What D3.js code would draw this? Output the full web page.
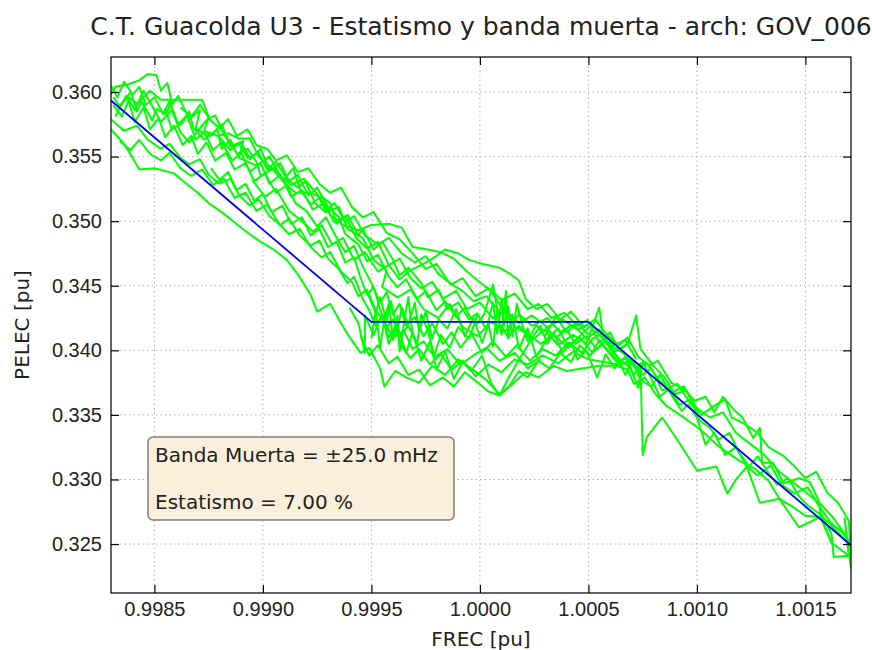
<!DOCTYPE html>
<html>
<head>
<meta charset="utf-8">
<script src="https://cdn.jsdelivr.net/npm/d3@7"></script>
<style>
  body { margin: 0; background: #fff; }
  svg { font-family: "DejaVu Sans", sans-serif; }
  .axis path { display: none; }
  .axis line { stroke: #000; stroke-width: 1.2; }
  .axis text { font-size: 20px; fill: #222; }
  .grid line { stroke: #b0b0b0; stroke-width: 1; stroke-dasharray: 1.5,3; }
</style>
</head>
<body>
<div id="chart"></div>
<script>
// titles and labels
const chartTitle = 'C.T. Guacolda U3 - Estatismo y banda muerta - arch: GOV_006';
const xLabel = 'FREC [pu]';
const yLabel = 'PELEC [pu]';
const boxLines = ['Banda Muerta = \u00b125.0 mHz', 'Estatismo = 7.00 %'];

const xTicks = [0.9985, 0.9990, 0.9995, 1.0000, 1.0005, 1.0010, 1.0015];
const yTicks = [0.325, 0.330, 0.335, 0.340, 0.345, 0.350, 0.355, 0.360];

// droop characteristic (blue line): frequency breakpoints and power
const refFrec = [0.99830, 0.99950, 1.00050, 1.00171];
const refPelec = [0.35934, 0.3422, 0.3422, 0.32491];

// measured traces [frec, pelec]
const trace1 = [[0.99830,0.3598],[0.99832,0.3604],[0.99838,0.3606],[0.99843,0.3609],[0.99847,0.3614],[0.99851,0.3613],[0.99853,0.3601],[0.99856,0.3607],[0.99858,0.3592],[0.99855,0.3583],[0.99861,0.3597],[0.99866,0.3579],[0.99871,0.3586],[0.99869,0.3571],[0.99876,0.3566],[0.99881,0.3575],[0.99885,0.3558],[0.99891,0.3562],[0.99889,0.3549],[0.99897,0.3543],[0.99903,0.3550],[0.99908,0.3535],[0.99913,0.3528],[0.99919,0.3533],[0.99924,0.3514],[0.99929,0.3507],[0.99935,0.3511],[0.99939,0.3494],[0.99946,0.3487],[0.99951,0.3470],[0.99957,0.3462],[0.99955,0.3449],[0.99962,0.3441],[0.99968,0.3447],[0.99974,0.3432],[0.99981,0.3425],[0.99986,0.3436],[0.99992,0.3418],[0.99999,0.3411],[1.00005,0.3422],[1.00012,0.3415],[1.00018,0.3428],[1.00024,0.3419],[1.00031,0.3425],[1.00037,0.3414],[1.00043,0.3420],[1.00049,0.3409],[1.00055,0.3416],[1.00060,0.3404],[1.00066,0.3398],[1.00072,0.3386],[1.00077,0.3390],[1.00083,0.3376],[1.00089,0.3368],[1.00094,0.3372],[1.00100,0.3355],[1.00106,0.3348],[1.00112,0.3352],[1.00118,0.3336],[1.00125,0.3327],[1.00131,0.3319],[1.00138,0.3306],[1.00144,0.3298],[1.00151,0.3289],[1.00157,0.3281],[1.00163,0.3270],[1.00168,0.3258],[1.00171,0.3249]];
const trace2 = [[0.99833,0.3588],[0.99838,0.3596],[0.99842,0.3591],[0.99848,0.3601],[0.99853,0.3594],[0.99860,0.3594],[0.99868,0.3594],[0.99872,0.3594],[0.99875,0.3581],[0.99873,0.3570],[0.99879,0.3566],[0.99884,0.3568],[0.99889,0.3564],[0.99894,0.3564],[0.99898,0.3550],[0.99904,0.3541],[0.99910,0.3530],[0.99915,0.3522],[0.99922,0.3522],[0.99926,0.3519],[0.99931,0.3505],[0.99937,0.3497],[0.99944,0.3493],[0.99950,0.3497],[0.99958,0.3498],[0.99964,0.3495],[0.99969,0.3480],[0.99976,0.3478],[0.99982,0.3476],[0.99988,0.3471],[0.99994,0.3461],[0.99999,0.3454],[1.00005,0.3446],[1.00011,0.3431],[1.00016,0.3418],[1.00022,0.3413],[1.00028,0.3405],[1.00034,0.3412],[1.00040,0.3403],[1.00046,0.3410],[1.00052,0.3398],[1.00056,0.3405],[1.00063,0.3391],[1.00069,0.3395],[1.00075,0.3381],[1.00079,0.3386],[1.00084,0.3369],[1.00091,0.3374],[1.00097,0.3359],[1.00102,0.3350],[1.00108,0.3357],[1.00113,0.3362],[1.00116,0.3348],[1.00122,0.3343],[1.00128,0.3336],[1.00133,0.3325],[1.00140,0.3318],[1.00145,0.3310],[1.00150,0.3301],[1.00155,0.3306],[1.00160,0.3290],[1.00165,0.3282],[1.00170,0.3268],[1.00171,0.3241]];
const trace3 = [[0.99830,0.3571],[0.99836,0.3560],[0.99840,0.3549],[0.99843,0.3540],[0.99850,0.3541],[0.99859,0.3537],[0.99864,0.3530],[0.99870,0.3522],[0.99875,0.3514],[0.99881,0.3507],[0.99887,0.3499],[0.99893,0.3491],[0.99899,0.3484],[0.99905,0.3478],[0.99911,0.3470],[0.99916,0.3459],[0.99922,0.3443],[0.99925,0.3430],[0.99931,0.3436],[0.99936,0.3421],[0.99940,0.3410],[0.99945,0.3398],[0.99949,0.3402],[0.99954,0.3386],[0.99956,0.3372],[0.99961,0.3384],[0.99966,0.3379],[0.99972,0.3375],[0.99978,0.3388],[0.99984,0.3381],[0.99990,0.3393],[0.99996,0.3386],[1.00003,0.3377],[1.00009,0.3366],[1.00015,0.3374],[1.00021,0.3383],[1.00027,0.3379],[1.00034,0.3388],[1.00040,0.3384],[1.00047,0.3386],[1.00055,0.3388],[1.00063,0.3388],[1.00068,0.3385],[1.00071,0.3374],[1.00076,0.3379],[1.00081,0.3366],[1.00086,0.3357],[1.00093,0.3349],[1.00099,0.3342],[1.00104,0.3335],[1.00109,0.3327],[1.00114,0.3321],[1.00120,0.3314],[1.00127,0.3308],[1.00133,0.3299],[1.00138,0.3285],[1.00144,0.3279],[1.00150,0.3272],[1.00157,0.3271],[1.00162,0.3251],[1.00166,0.3246],[1.00170,0.3241]];
const trace4 = [[0.99831,0.3590],[0.99835,0.3581],[0.99838,0.3593],[0.99841,0.3577],[0.99845,0.3588],[0.99848,0.3571],[0.99852,0.3580],[0.99855,0.3565],[0.99859,0.3574],[0.99863,0.3559],[0.99867,0.3566],[0.99870,0.3552],[0.99874,0.3561],[0.99878,0.3547],[0.99883,0.3553],[0.99887,0.3540],[0.99892,0.3545],[0.99896,0.3531],[0.99901,0.3537],[0.99906,0.3522],[0.99911,0.3528],[0.99915,0.3514],[0.99920,0.3508],[0.99925,0.3496],[0.99929,0.3503],[0.99934,0.3487],[0.99938,0.3476],[0.99942,0.3481],[0.99946,0.3465],[0.99950,0.3452],[0.99954,0.3437],[0.99957,0.3445],[0.99960,0.3428],[0.99963,0.3436],[0.99966,0.3419],[0.99970,0.3426],[0.99974,0.3411],[0.99978,0.3421],[0.99983,0.3405],[0.99987,0.3414],[0.99991,0.3402],[0.99996,0.3413],[1.00001,0.3398],[1.00006,0.3407],[1.00012,0.3395],[1.00017,0.3404],[1.00023,0.3392],[1.00029,0.3401],[1.00035,0.3396],[1.00041,0.3406],[1.00047,0.3398],[1.00052,0.3409],[1.00056,0.3413],[1.00060,0.3401],[1.00065,0.3392],[1.00069,0.3387],[1.00073,0.3371],[1.00075,0.3391],[1.00079,0.3378],[1.00083,0.3364],[1.00087,0.3370],[1.00092,0.3358],[1.00097,0.3362],[1.00101,0.3346],[1.00106,0.3340],[1.00110,0.3331],[1.00115,0.3336],[1.00119,0.3322],[1.00124,0.3310],[1.00128,0.3318],[1.00133,0.3305],[1.00137,0.3296],[1.00142,0.3301],[1.00147,0.3287],[1.00151,0.3280],[1.00156,0.3274],[1.00161,0.3266],[1.00166,0.3257],[1.00171,0.3248]];
const trace5 = [[0.99832,0.3581],[0.99837,0.3597],[0.99841,0.3586],[0.99845,0.3601],[0.99849,0.3589],[0.99853,0.3577],[0.99858,0.3586],[0.99862,0.3569],[0.99866,0.3561],[0.99870,0.3570],[0.99874,0.3578],[0.99878,0.3582],[0.99882,0.3567],[0.99886,0.3558],[0.99890,0.3561],[0.99894,0.3548],[0.99899,0.3556],[0.99903,0.3539],[0.99908,0.3545],[0.99912,0.3531],[0.99916,0.3536],[0.99921,0.3520],[0.99925,0.3526],[0.99930,0.3511],[0.99935,0.3503],[0.99938,0.3490],[0.99944,0.3482],[0.99948,0.3469],[0.99953,0.3474],[0.99958,0.3457],[0.99962,0.3449],[0.99966,0.3455],[0.99971,0.3440],[0.99975,0.3446],[0.99980,0.3431],[0.99984,0.3438],[0.99989,0.3426],[0.99993,0.3433],[0.99998,0.3419],[1.00002,0.3428],[1.00006,0.3451],[1.00009,0.3421],[1.00013,0.3410],[1.00018,0.3419],[1.00024,0.3408],[1.00030,0.3416],[1.00036,0.3404],[1.00043,0.3412],[1.00049,0.3405],[1.00055,0.3433],[1.00057,0.3408],[1.00062,0.3399],[1.00068,0.3405],[1.00072,0.3427],[1.00074,0.3401],[1.00080,0.3388],[1.00085,0.3379],[1.00090,0.3366],[1.00095,0.3369],[1.00100,0.3353]];
const trace6 = [[0.99830,0.3579],[0.99836,0.3570],[0.99842,0.3574],[0.99847,0.3563],[0.99853,0.3556],[0.99857,0.3560],[0.99862,0.3549],[0.99866,0.3544],[0.99871,0.3548],[0.99875,0.3536],[0.99880,0.3529],[0.99885,0.3533],[0.99889,0.3520],[0.99894,0.3512],[0.99898,0.3517],[0.99903,0.3504],[0.99908,0.3497],[0.99912,0.3502],[0.99917,0.3489],[0.99922,0.3481],[0.99926,0.3485],[0.99930,0.3471],[0.99935,0.3463],[0.99939,0.3452],[0.99942,0.3457],[0.99946,0.3440],[0.99949,0.3431],[0.99952,0.3419],[0.99955,0.3427],[0.99958,0.3410],[0.99961,0.3418],[0.99964,0.3403],[0.99968,0.3394],[0.99972,0.3401],[0.99977,0.3389],[0.99982,0.3397],[0.99987,0.3385],[0.99992,0.3392],[0.99998,0.3380],[1.00004,0.3389],[1.00010,0.3383],[1.00016,0.3393],[1.00022,0.3389],[1.00029,0.3396],[1.00036,0.3390],[1.00043,0.3399],[1.00050,0.3393],[1.00057,0.3391],[1.00064,0.3389]];
const trace7 = [[0.99895,0.3532],[0.99901,0.3519],[0.99906,0.3525],[0.99912,0.3508],[0.99918,0.3500],[0.99923,0.3492],[0.99927,0.3497],[0.99932,0.3482],[0.99937,0.3487],[0.99942,0.3470],[0.99947,0.3476],[0.99953,0.3461],[0.99958,0.3466],[0.99963,0.3455],[0.99968,0.3462],[0.99974,0.3467],[0.99980,0.3473],[0.99984,0.3478],[0.99990,0.3475],[0.99995,0.3470],[1.00001,0.3467],[1.00009,0.3464],[1.00014,0.3459],[1.00018,0.3454],[1.00021,0.3440],[1.00026,0.3432],[1.00031,0.3436],[1.00037,0.3424],[1.00042,0.3430],[1.00048,0.3418],[1.00053,0.3424],[1.00059,0.3411],[1.00064,0.3404],[1.00068,0.3410],[1.00073,0.3395],[1.00078,0.3388],[1.00082,0.3392],[1.00088,0.3375],[1.00094,0.3370],[1.00099,0.3361],[1.00104,0.3364],[1.00108,0.3352],[1.00112,0.3364],[1.00117,0.3354],[1.00121,0.3348],[1.00126,0.3332],[1.00129,0.3340],[1.00130,0.3313],[1.00135,0.3313],[1.00140,0.3297],[1.00147,0.3301],[1.00152,0.3298],[1.00156,0.3284],[1.00157,0.3274],[1.00162,0.3258],[1.00163,0.3240],[1.00170,0.3241],[1.00168,0.3270],[1.00171,0.3231]];
const trace8 = [[0.99940,0.3433],[0.99944,0.3421],[0.99947,0.3398],[0.99947,0.3427],[0.99951,0.3412],[0.99955,0.3428],[0.99958,0.3405],[0.99962,0.3419],[0.99966,0.3398],[0.99969,0.3414],[0.99973,0.3392],[0.99977,0.3407],[0.99980,0.3385],[0.99984,0.3399],[0.99988,0.3378],[0.99992,0.3391],[0.99996,0.3384],[1.00001,0.3396],[1.00005,0.3375],[1.00009,0.3365],[1.00013,0.3378],[1.00017,0.3390],[1.00021,0.3401],[1.00025,0.3412],[1.00028,0.3419],[1.00031,0.3405],[1.00034,0.3414],[1.00038,0.3398],[1.00042,0.3406],[1.00045,0.3393],[1.00049,0.3400],[1.00054,0.3379],[1.00058,0.3397],[1.00062,0.3386],[1.00067,0.3395],[1.00071,0.3381],[1.00074,0.3390],[1.00075,0.3319],[1.00077,0.3333],[1.00084,0.3348],[1.00092,0.3328],[1.00100,0.3307],[1.00109,0.3310],[1.00114,0.3289],[1.00118,0.3300],[1.00123,0.3310],[1.00129,0.3282],[1.00138,0.3285],[1.00147,0.3263],[1.00157,0.3271],[1.00162,0.3251]];
const trace9 = [[0.99948,0.3445],[0.99952,0.3429],[0.99954,0.3441],[0.99957,0.3423],[0.99959,0.3438],[0.99962,0.3416],[0.99964,0.3433],[0.99967,0.3420],[0.99970,0.3437],[0.99972,0.3414],[0.99975,0.3430],[0.99978,0.3409],[0.99981,0.3424],[0.99985,0.3417],[0.99989,0.3432],[0.99993,0.3411],[0.99997,0.3425],[1.00001,0.3406],[1.00004,0.3420],[1.00006,0.3403],[1.00008,0.3431],[1.00010,0.3412],[1.00012,0.3446],[1.00013,0.3409],[1.00015,0.3428],[1.00018,0.3401],[1.00022,0.3417],[1.00026,0.3395],[1.00031,0.3409],[1.00036,0.3417],[1.00041,0.3402],[1.00046,0.3411],[1.00051,0.3419],[1.00055,0.3406],[1.00060,0.3414],[1.00064,0.3400],[1.00069,0.3406]];
const trace10 = [[0.99834,0.3562],[0.99839,0.3555],[0.99843,0.3563],[0.99848,0.3552],[0.99853,0.3547],[0.99857,0.3553],[0.99862,0.3541],[0.99867,0.3535],[0.99872,0.3540],[0.99877,0.3528],[0.99882,0.3533],[0.99887,0.3518],[0.99892,0.3522],[0.99897,0.3508],[0.99902,0.3513],[0.99907,0.3499],[0.99912,0.3490],[0.99917,0.3494],[0.99922,0.3480],[0.99927,0.3472],[0.99931,0.3476],[0.99936,0.3461],[0.99941,0.3453],[0.99944,0.3442],[0.99948,0.3447],[0.99952,0.3431],[0.99956,0.3422],[0.99960,0.3410],[0.99965,0.3415],[0.99969,0.3401],[0.99974,0.3407],[0.99979,0.3395],[0.99985,0.3401],[0.99991,0.3389],[0.99997,0.3396],[1.00003,0.3402],[1.00009,0.3392],[1.00016,0.3398],[1.00022,0.3386],[1.00028,0.3393]];
const trace11 = [[0.99830,0.3605],[0.99833,0.3596],[0.99836,0.3608],[0.99840,0.3598],[0.99843,0.3604],[0.99846,0.3590],[0.99850,0.3596],[0.99854,0.3583],[0.99857,0.3593],[0.99861,0.3575],[0.99865,0.3582],[0.99869,0.3563],[0.99873,0.3569],[0.99877,0.3555],[0.99881,0.3561],[0.99886,0.3547],[0.99890,0.3553],[0.99894,0.3538],[0.99899,0.3545],[0.99903,0.3529],[0.99908,0.3536],[0.99913,0.3519],[0.99918,0.3524],[0.99923,0.3509],[0.99928,0.3514],[0.99933,0.3499],[0.99938,0.3504],[0.99943,0.3487],[0.99948,0.3479],[0.99953,0.3484],[0.99958,0.3466],[0.99963,0.3471],[0.99968,0.3456],[0.99973,0.3448],[0.99978,0.3453],[0.99983,0.3440],[0.99989,0.3446],[0.99994,0.3432],[1.00000,0.3437],[1.00006,0.3425],[1.00012,0.3431],[1.00018,0.3421],[1.00024,0.3427],[1.00031,0.3418],[1.00038,0.3424],[1.00045,0.3416],[1.00051,0.3421],[1.00056,0.3410],[1.00062,0.3404],[1.00067,0.3408],[1.00072,0.3393]];
const trace12 = [[0.99831,0.3596],[0.99834,0.3589],[0.99839,0.3600],[0.99842,0.3585],[0.99844,0.3593],[0.99849,0.3578],[0.99851,0.3587],[0.99856,0.3582],[0.99858,0.3571],[0.99863,0.3576],[0.99866,0.3585],[0.99868,0.3572],[0.99873,0.3563],[0.99879,0.3571],[0.99881,0.3556],[0.99885,0.3563],[0.99888,0.3552],[0.99893,0.3556],[0.99897,0.3546],[0.99899,0.3535],[0.99905,0.3541],[0.99909,0.3531],[0.99914,0.3541],[0.99917,0.3525],[0.99922,0.3513],[0.99927,0.3519],[0.99931,0.3514],[0.99934,0.3498],[0.99939,0.3505],[0.99944,0.3489],[0.99946,0.3494],[0.99951,0.3478],[0.99955,0.3484],[0.99960,0.3470],[0.99963,0.3458],[0.99967,0.3464],[0.99973,0.3452],[0.99976,0.3441],[0.99981,0.3447],[0.99985,0.3432],[0.99990,0.3437],[0.99995,0.3424],[0.99999,0.3429]];
const trace13 = [[0.99950,0.3409],[0.99952,0.3431],[0.99954,0.3402],[0.99956,0.3424],[0.99958,0.3436],[0.99960,0.3408],[0.99962,0.3427],[0.99963,0.3399],[0.99965,0.3421],[0.99967,0.3441],[0.99969,0.3412],[0.99971,0.3404],[0.99973,0.3428],[0.99976,0.3415],[0.99979,0.3396],[0.99982,0.3412],[0.99986,0.3402],[0.99990,0.3418],[0.99995,0.3409],[0.99999,0.3428],[1.00003,0.3416],[1.00006,0.3437],[1.00008,0.3413],[1.00010,0.3440],[1.00011,0.3419],[1.00013,0.3434],[1.00015,0.3411],[1.00017,0.3436],[1.00019,0.3423],[1.00022,0.3407],[1.00026,0.3420],[1.00030,0.3411],[1.00035,0.3426],[1.00040,0.3414],[1.00045,0.3421],[1.00050,0.3412]];
const trace14 = [[0.99945,0.3411],[0.99949,0.3396],[0.99953,0.3404],[0.99958,0.3390],[0.99962,0.3395],[0.99967,0.3381],[0.99972,0.3385],[0.99977,0.3373],[0.99983,0.3379],[0.99988,0.3372],[0.99993,0.3383],[0.99999,0.3375],[1.00004,0.3368],[1.00009,0.3365],[1.00013,0.3371],[1.00018,0.3384],[1.00022,0.3379],[1.00027,0.3392],[1.00032,0.3386],[1.00037,0.3398],[1.00042,0.3391],[1.00046,0.3404],[1.00051,0.3396],[1.00055,0.3408],[1.00060,0.3398],[1.00065,0.3389],[1.00070,0.3393],[1.00074,0.3380]];
const trace15 = [[0.99880,0.3565],[0.99885,0.3555],[0.99889,0.3560],[0.99893,0.3549],[0.99898,0.3553],[0.99902,0.3540],[0.99906,0.3546],[0.99911,0.3533],[0.99916,0.3526],[0.99920,0.3531],[0.99925,0.3521],[0.99929,0.3508],[0.99933,0.3514],[0.99938,0.3499],[0.99942,0.3504],[0.99947,0.3489],[0.99953,0.3482],[0.99958,0.3487],[0.99964,0.3475],[0.99970,0.3468],[0.99975,0.3473],[0.99981,0.3459],[0.99987,0.3451],[0.99992,0.3456],[0.99998,0.3442],[1.00004,0.3448],[1.00010,0.3439],[1.00016,0.3444],[1.00022,0.3432],[1.00027,0.3436],[1.00033,0.3425],[1.00039,0.3429],[1.00045,0.3419],[1.00050,0.3424]];
const trace16 = [[1.00030,0.3418],[1.00035,0.3410],[1.00040,0.3416],[1.00044,0.3405],[1.00049,0.3411],[1.00054,0.3401],[1.00058,0.3408],[1.00063,0.3396],[1.00067,0.3381],[1.00070,0.3392],[1.00074,0.3377],[1.00079,0.3372],[1.00083,0.3381],[1.00088,0.3366],[1.00093,0.3353],[1.00096,0.3358],[1.00100,0.3348],[1.00104,0.3327],[1.00108,0.3336],[1.00113,0.3319],[1.00118,0.3325],[1.00123,0.3310],[1.00128,0.3303],[1.00134,0.3311],[1.00139,0.3296],[1.00145,0.3289],[1.00151,0.3294],[1.00156,0.3280],[1.00162,0.3266],[1.00167,0.3259],[1.00171,0.3250]];
const trace17 = [[0.99862,0.3588],[0.99867,0.3581],[0.99871,0.3590],[0.99876,0.3578],[0.99880,0.3572],[0.99884,0.3579],[0.99888,0.3566],[0.99893,0.3571],[0.99897,0.3559],[0.99902,0.3556],[0.99906,0.3547],[0.99911,0.3551],[0.99916,0.3538],[0.99921,0.3541],[0.99926,0.3529],[0.99931,0.3522],[0.99936,0.3526],[0.99941,0.3511],[0.99946,0.3503],[0.99951,0.3507],[0.99957,0.3491],[0.99963,0.3486],[0.99969,0.3475],[0.99975,0.3463],[0.99980,0.3467],[0.99986,0.3452],[0.99992,0.3446],[0.99997,0.3438],[1.00003,0.3442],[1.00009,0.3430]];
const trace18 = [[0.99876,0.3541],[0.99880,0.3532],[0.99884,0.3538],[0.99888,0.3524],[0.99892,0.3529],[0.99896,0.3516],[0.99900,0.3521],[0.99904,0.3507],[0.99909,0.3512],[0.99913,0.3498],[0.99918,0.3503],[0.99922,0.3489],[0.99926,0.3494],[0.99930,0.3480],[0.99934,0.3484],[0.99938,0.3468],[0.99942,0.3472],[0.99945,0.3456],[0.99948,0.3443],[0.99951,0.3449],[0.99954,0.3432],[0.99957,0.3418],[0.99960,0.3424],[0.99963,0.3411],[0.99967,0.3419],[0.99971,0.3406]];

const traces = [trace1, trace2, trace3, trace4, trace5, trace6, trace7, trace8, trace9,
    trace10, trace11, trace12, trace13, trace14, trace15, trace16, trace17, trace18];

const width = 872, height = 650;
const margin = { top: 57, right: 21, bottom: 57, left: 111 };
const innerW = width - margin.left - margin.right;
const innerH = height - margin.top - margin.bottom;

const svg = d3.select('#chart').append('svg')
    .attr('width', width)
    .attr('height', height);

const chart = svg.append('g')
    .attr('transform', `translate(${margin.left},${margin.top})`);

const xScale = d3.scaleLinear()
    .domain([refFrec[0], refFrec[refFrec.length - 1]])
    .range([0, innerW]);
const yScale = d3.scaleLinear()
    .domain([0.32121, 0.36271])
    .range([innerH, 0]);

// grid
chart.append('g').attr('class', 'grid')
    .selectAll('line').data(xTicks).join('line')
    .attr('x1', d => xScale(d)).attr('x2', d => xScale(d))
    .attr('y1', 0).attr('y2', innerH);
chart.append('g').attr('class', 'grid')
    .selectAll('line').data(yTicks).join('line')
    .attr('x1', 0).attr('x2', innerW)
    .attr('y1', d => yScale(d)).attr('y2', d => yScale(d));

// data
svg.append('defs').append('clipPath').attr('id', 'clip')
    .append('rect').attr('width', innerW).attr('height', innerH);

const line = d3.line()
    .x(d => xScale(d[0]))
    .y(d => yScale(d[1]));

chart.append('g').attr('clip-path', 'url(#clip)')
    .selectAll('.trace').data(traces).join('path')
    .attr('class', 'trace')
    .attr('fill', 'none')
    .attr('stroke', '#00ff00')
    .attr('stroke-width', 2)
    .attr('stroke-linejoin', 'round')
    .attr('d', line);

chart.append('path')
    .datum(refFrec.map((f, i) => [f, refPelec[i]]))
    .attr('fill', 'none')
    .attr('stroke', '#0000ff')
    .attr('stroke-width', 1.8)
    .attr('d', line);

// axes with inward ticks on all sides
const tick = 8;
chart.append('g').attr('class', 'axis')
    .attr('transform', `translate(0,${innerH})`)
    .call(d3.axisBottom(xScale).tickValues(xTicks).tickFormat(d3.format('.4f')).tickSize(-tick).tickPadding(9));
chart.append('g').attr('class', 'axis')
    .call(d3.axisTop(xScale).tickValues(xTicks).tickFormat('').tickSize(-tick));
chart.append('g').attr('class', 'axis')
    .call(d3.axisLeft(yScale).tickValues(yTicks).tickFormat(d3.format('.3f')).tickSize(-tick).tickPadding(9));
chart.append('g').attr('class', 'axis')
    .attr('transform', `translate(${innerW},0)`)
    .call(d3.axisRight(yScale).tickValues(yTicks).tickFormat('').tickSize(-tick));

chart.append('rect')
    .attr('width', innerW).attr('height', innerH)
    .attr('fill', 'none').attr('stroke', '#000').attr('stroke-width', 1.2);

// annotation box
const box = chart.append('g').attr('transform', 'translate(37,380)');
box.append('rect')
    .attr('width', 306).attr('height', 83)
    .attr('rx', 5).attr('ry', 5)
    .attr('fill', '#faefda')
    .attr('stroke', '#7f7f7f')
    .attr('stroke-width', 1.5);
box.selectAll('text').data(boxLines).join('text')
    .attr('x', 7)
    .attr('y', (d, i) => 25 + i * 47)
    .style('font-size', '20px')
    .style('fill', '#222')
    .text(d => d);

// titles
svg.append('text')
    .attr('x', margin.left + innerW / 2)
    .attr('y', 35)
    .attr('text-anchor', 'middle')
    .style('font-size', '25px')
    .style('fill', '#222')
    .text(chartTitle);

svg.append('text')
    .attr('x', margin.left + innerW / 2)
    .attr('y', 646)
    .attr('text-anchor', 'middle')
    .style('font-size', '20px')
    .style('fill', '#222')
    .text(xLabel);

svg.append('text')
    .attr('transform', `translate(29,${margin.top + innerH / 2}) rotate(-90)`)
    .attr('text-anchor', 'middle')
    .style('font-size', '20px')
    .style('fill', '#222')
    .text(yLabel);
</script>
</body>
</html>
